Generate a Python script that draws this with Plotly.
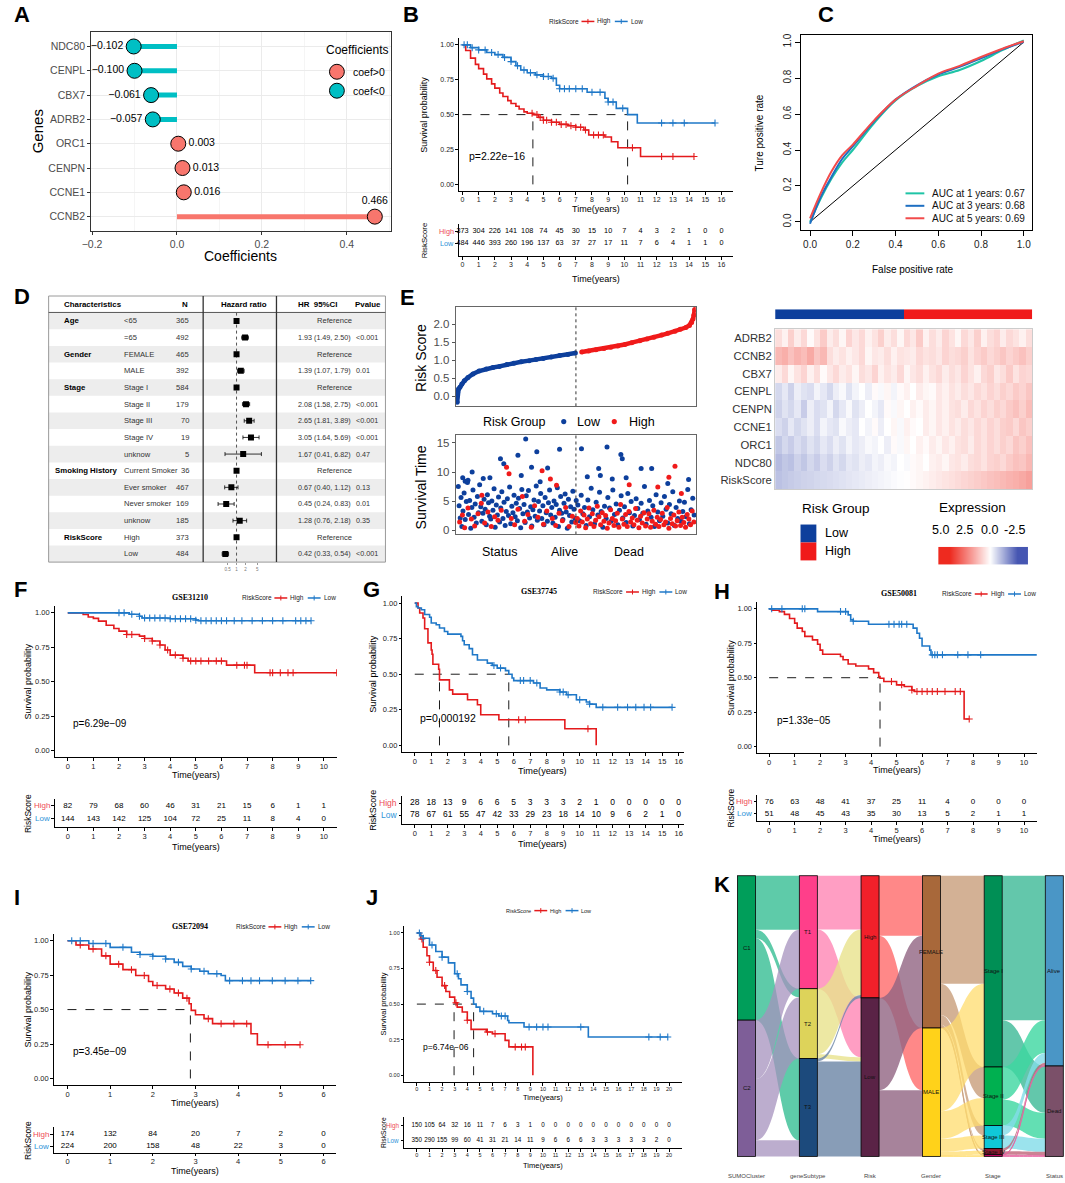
import plotly.graph_objects as go

W, H = 1065, 1183
SANS = "Liberation Sans, Arial, sans-serif"
SERIF = "Liberation Serif, Times New Roman, serif"

# ---------------- A : coefficients ----------------
a_genes = ["NDC80", "CENPL", "CBX7", "ADRB2", "ORC1", "CENPN", "CCNE1", "CCNB2"]
a_coef = [-0.102, -0.100, -0.061, -0.057, 0.003, 0.013, 0.016, 0.466]

# ---------------- B : TCGA KM ----------------
b_high_t = [0, 0.2, 0.5, 0.8, 1.0, 1.3, 1.5, 1.8, 2.0, 2.3, 2.5, 2.8, 3.0, 3.3, 3.5, 3.8, 4.0, 4.35, 4.7, 5.0, 5.5, 6.0, 6.5, 7.0, 7.5, 7.8, 8.8, 9.2, 9.6, 11.0, 14.3]
b_high_s = [1.0, 0.96, 0.905, 0.86, 0.83, 0.79, 0.756, 0.72, 0.69, 0.655, 0.63, 0.60, 0.58, 0.56, 0.54, 0.52, 0.51, 0.50, 0.48, 0.46, 0.445, 0.43, 0.42, 0.41, 0.39, 0.354, 0.34, 0.306, 0.263, 0.20, 0.20]
b_low_t = [0, 0.5, 1.0, 1.5, 2.0, 2.5, 3.0, 3.3, 3.6, 4.0, 4.5, 5.0, 5.5, 5.8, 6.0, 7.7, 8.8, 9.0, 9.5, 10.2, 10.8, 15.6]
b_low_s = [1.0, 0.98, 0.964, 0.945, 0.93, 0.91, 0.88, 0.85, 0.82, 0.80, 0.785, 0.773, 0.76, 0.71, 0.685, 0.66, 0.617, 0.59, 0.545, 0.50, 0.44, 0.44]
b_cens_high = [4.3, 4.6, 4.8, 5.0, 5.2, 5.5, 5.8, 6.1, 6.4, 6.7, 7.0, 7.3, 7.6, 8.1, 8.4, 8.7, 10.5, 12.3, 13.0, 14.3]
b_cens_low = [0.1, 0.3, 0.6, 1.0, 1.4, 1.8, 2.2, 2.6, 3.0, 3.4, 3.8, 4.2, 4.6, 5.0, 5.3, 5.6, 6.0, 6.3, 6.6, 7.0, 7.4, 8.0, 8.5, 9.0, 9.3, 9.9, 12.3, 13.0, 13.7, 15.6]
b_medians = [4.35, 10.2]
b_tab_high = [373, 304, 226, 141, 108, 74, 45, 30, 15, 10, 7, 4, 3, 2, 1, 0, 0]
b_tab_low = [484, 446, 393, 260, 196, 137, 63, 37, 27, 17, 11, 7, 6, 4, 1, 1, 0]

# ---------------- F : GSE31210 ----------------
f_high_t = [0, 0.6, 0.8, 1.0, 1.2, 1.5, 1.8, 2.0, 2.3, 2.8, 3.0, 3.3, 3.6, 3.8, 4.0, 4.5, 4.7, 6.2, 7.3, 10.5]
f_high_s = [1.0, 0.988, 0.97, 0.96, 0.94, 0.91, 0.886, 0.867, 0.843, 0.831, 0.814, 0.795, 0.766, 0.73, 0.693, 0.67, 0.65, 0.62, 0.565, 0.565]
f_low_t = [0, 2.4, 2.8, 2.9, 4.0, 5.0, 5.1, 9.5]
f_low_s = [1.0, 0.99, 0.975, 0.962, 0.957, 0.947, 0.942, 0.942]
f_cens_high = [2.3, 2.5, 3.0, 3.3, 3.6, 3.9, 4.2, 4.5, 4.8, 5.0, 5.2, 5.5, 5.8, 6.0, 6.6, 6.9, 7.0, 7.9, 8.0, 8.3, 8.6, 8.8, 10.5]
f_cens_low = [2.0, 2.2, 2.5, 2.8, 3.0, 3.2, 3.4, 3.6, 3.8, 4.0, 4.2, 4.4, 4.6, 4.8, 5.0, 5.2, 5.4, 5.6, 5.8, 6.0, 6.2, 6.5, 6.8, 7.2, 7.6, 8.0, 8.4, 8.9, 9.1, 9.3, 9.5]
f_medians = []
f_tab_high = [82, 79, 68, 60, 46, 31, 21, 15, 6, 1, 1]
f_tab_low = [144, 143, 142, 125, 104, 72, 25, 11, 8, 4, 0]

# ---------------- G : GSE37745 ----------------
g_high_t = [0, 0.2, 0.3, 0.5, 0.6, 0.8, 1.0, 1.05, 1.1, 1.45, 1.5, 2.1, 2.3, 3.2, 3.8, 4.0, 5.1, 9.1, 11.0]
g_high_s = [1.0, 0.965, 0.93, 0.895, 0.82, 0.72, 0.67, 0.64, 0.57, 0.535, 0.46, 0.39, 0.36, 0.32, 0.285, 0.215, 0.18, 0.117, 0.0]
g_low_t = [0, 0.1, 0.2, 0.4, 0.6, 0.9, 1.0, 1.3, 1.5, 1.8, 2.0, 2.8, 2.9, 3.0, 3.3, 3.5, 3.8, 4.4, 4.7, 5.0, 5.5, 5.7, 5.9, 6.0, 7.2, 7.6, 8.0, 8.8, 9.2, 9.8, 10.4, 10.6, 11.0, 15.6]
g_low_s = [1.0, 0.975, 0.965, 0.953, 0.92, 0.90, 0.86, 0.848, 0.825, 0.80, 0.782, 0.766, 0.735, 0.707, 0.68, 0.637, 0.60, 0.578, 0.562, 0.543, 0.525, 0.50, 0.473, 0.455, 0.438, 0.403, 0.39, 0.375, 0.356, 0.32, 0.305, 0.29, 0.267, 0.267]
g_cens_high = [6.3, 6.7, 10.5]
g_cens_low = [4.8, 5.2, 6.4, 6.6, 7.0, 7.4, 8.8, 9.0, 9.3, 10.0, 10.6, 11.4, 12.3, 12.9, 13.4, 13.9, 14.3, 15.6]
g_medians = [1.5, 5.7]
g_tab_high = [28, 18, 13, 9, 6, 6, 5, 3, 3, 3, 2, 1, 0, 0, 0, 0, 0]
g_tab_low = [78, 67, 61, 55, 47, 42, 33, 29, 23, 18, 14, 10, 9, 6, 2, 1, 0]

# ---------------- H : GSE50081 ----------------
h_high_t = [0, 0.1, 0.4, 0.6, 0.8, 1.0, 1.1, 1.3, 1.4, 1.7, 1.9, 2.0, 2.1, 2.8, 2.9, 3.1, 3.4, 3.9, 4.1, 4.3, 4.35, 4.5, 5.0, 5.3, 5.6, 5.7, 7.65, 7.85]
h_high_s = [1.0, 0.99, 0.98, 0.96, 0.93, 0.896, 0.86, 0.835, 0.80, 0.775, 0.743, 0.70, 0.67, 0.654, 0.63, 0.60, 0.585, 0.564, 0.537, 0.508, 0.496, 0.472, 0.448, 0.436, 0.41, 0.40, 0.20, 0.20]
h_low_t = [0, 1.9, 3.1, 3.2, 3.3, 3.9, 5.65, 5.8, 5.9, 6.0, 6.3, 6.35, 10.5]
h_low_s = [1.0, 0.98, 0.956, 0.92, 0.91, 0.888, 0.86, 0.823, 0.787, 0.73, 0.70, 0.666, 0.666]
h_cens_high = [4.8, 5.2, 5.6, 5.8, 6.0, 6.2, 6.4, 6.6, 6.9, 7.3, 7.5, 7.85]
h_cens_low = [0.1, 0.5, 1.3, 1.4, 2.8, 3.0, 3.3, 4.7, 4.9, 5.1, 5.2, 5.4, 6.4, 6.5, 6.6, 6.8, 7.4, 7.8, 8.3]
h_medians = [4.35]
h_tab_high = [76, 63, 48, 41, 37, 25, 11, 4, 0, 0, 0]
h_tab_low = [51, 48, 45, 43, 35, 30, 13, 5, 2, 1, 1]

# ---------------- I : GSE72094 ----------------
i_high_t = [0, 0.2, 0.5, 0.8, 1.0, 1.3, 1.6, 1.9, 2.0, 2.3, 2.5, 2.7, 2.85, 2.9, 3.0, 3.2, 3.4, 4.3, 4.45, 5.45]
i_high_s = [1.0, 0.969, 0.94, 0.89, 0.83, 0.79, 0.747, 0.704, 0.675, 0.65, 0.62, 0.583, 0.542, 0.494, 0.463, 0.434, 0.398, 0.325, 0.245, 0.245]
i_low_t = [0, 0.5, 1.0, 1.5, 1.7, 2.0, 2.3, 2.5, 2.7, 2.9, 3.1, 3.3, 3.6, 3.7, 5.7]
i_low_s = [1.0, 0.98, 0.952, 0.916, 0.90, 0.887, 0.867, 0.843, 0.814, 0.795, 0.778, 0.76, 0.747, 0.71, 0.71]
i_cens_high = [0.3, 0.6, 0.9, 1.2, 1.5, 1.8, 2.1, 2.4, 2.6, 2.8, 3.3, 3.6, 3.9, 4.2, 4.7, 5.1, 5.45]
i_cens_low = [0.1, 0.3, 0.6, 0.9, 1.3, 1.7, 2.0, 2.3, 2.6, 2.9, 3.2, 3.5, 3.8, 4.1, 4.3, 4.5, 4.8, 5.1, 5.4, 5.7]
i_medians = [2.88]
i_tab_high = [174, 132, 84, 20, 7, 2, 0]
i_tab_low = [224, 200, 158, 48, 22, 3, 0]

# ---------------- J : merged cohort ----------------
j_high_t = [0, 0.3, 0.5, 0.8, 1.0, 1.3, 1.6, 2.0, 2.3, 2.6, 3.0, 3.2, 3.6, 4.0, 4.3, 5.5, 6.0, 7.0, 7.3, 9.2]
j_high_s = [1.0, 0.958, 0.90, 0.84, 0.794, 0.736, 0.689, 0.63, 0.589, 0.549, 0.509, 0.479, 0.444, 0.386, 0.322, 0.304, 0.292, 0.245, 0.199, 0.0]
j_low_t = [0, 0.3, 0.5, 1.0, 1.5, 2.0, 2.5, 3.0, 3.3, 3.5, 4.0, 4.3, 4.5, 4.7, 5.0, 6.0, 6.5, 7.2, 7.3, 8.5, 13.6, 19.9]
j_low_s = [1.0, 0.98, 0.963, 0.916, 0.87, 0.83, 0.79, 0.713, 0.678, 0.635, 0.589, 0.542, 0.50, 0.479, 0.449, 0.432, 0.416, 0.385, 0.369, 0.339, 0.269, 0.269]
j_cens_high = [0.4, 1.0, 1.5, 2.2, 3.1, 4.0, 5.6, 6.2, 7.8, 8.3, 8.6]
j_cens_low = [0.2, 0.5, 1.2, 2.0, 3.2, 4.0, 5.3, 6.3, 6.7, 7.0, 8.9, 9.5, 10.0, 10.4, 13.0, 18.4, 19.3, 19.9]
j_medians = [2.95, 4.5]
j_tab_high = [150, 105, 64, 32, 16, 11, 7, 6, 3, 1, 0, 0, 0, 0, 0, 0, 0, 0, 0, 0, 0]
j_tab_low = [350, 290, 155, 99, 60, 41, 31, 21, 14, 11, 9, 6, 6, 6, 3, 3, 3, 3, 3, 2, 0]

# ---------------- C : time dependent ROC ----------------
c_fpr = [0, 0.05, 0.1, 0.15, 0.2, 0.3, 0.4, 0.5, 0.6, 0.7, 0.8, 0.9, 1.0]
c_tpr_1 = [0.0, 0.13, 0.24, 0.33, 0.40, 0.55, 0.675, 0.755, 0.81, 0.845, 0.895, 0.955, 1.01]
c_tpr_3 = [-0.01, 0.14, 0.25, 0.35, 0.42, 0.56, 0.68, 0.76, 0.82, 0.862, 0.91, 0.96, 1.0]
c_tpr_5 = [0.02, 0.16, 0.28, 0.37, 0.43, 0.565, 0.68, 0.757, 0.825, 0.868, 0.917, 0.963, 1.005]
c_labels = ["AUC at 1 years: 0.67", "AUC at 3 years: 0.68", "AUC at 5 years: 0.69"]

# ---------------- D : multivariate Cox ----------------
d_var = ["Age", "", "Gender", "", "Stage", "", "", "", "", "Smoking History", "", "", "", "RiskScore", ""]
d_level = ["<65", "=65", "FEMALE", "MALE", "Stage I", "Stage II", "Stage III", "Stage IV", "unknow",
           "Current Smoker", "Ever smoker", "Never smoker", "unknow", "High", "Low"]
d_n = [365, 492, 465, 392, 584, 179, 70, 19, 5, 36, 467, 169, 185, 373, 484]
d_hr = [1, 1.93, 1, 1.39, 1, 2.08, 2.65, 3.05, 1.67, 1, 0.67, 0.45, 1.28, 1, 0.42]
d_lo = [1, 1.49, 1, 1.07, 1, 1.58, 1.81, 1.64, 0.41, 1, 0.40, 0.24, 0.76, 1, 0.33]
d_hi = [1, 2.50, 1, 1.79, 1, 2.75, 3.89, 5.69, 6.82, 1, 1.12, 0.83, 2.18, 1, 0.54]
d_p = ["", "<0.001", "", "0.01", "", "<0.001", "<0.001", "<0.001", "0.47", "", "0.13", "0.01", "0.35", "", "<0.001"]

# ---------------- E : risk plot + heatmap ----------------
e_n_pat = 857
e_split = 429
e_rank = [1, 3, 6, 11, 18, 27, 40, 58, 80, 106, 130, 153, 180, 205, 232, 260, 285, 311, 340, 370, 400, 427,
          450, 475, 501, 530, 555, 580, 605, 630, 659, 685, 710, 738, 760, 786, 805, 825, 838, 846, 851, 854, 857]
e_score = [-0.17, 0.12, 0.20, 0.25, 0.34, 0.43, 0.52, 0.62, 0.70, 0.76, 0.80, 0.83, 0.88, 0.92, 0.96, 0.99, 1.02, 1.05, 1.09, 1.13, 1.16, 1.20,
           1.23, 1.26, 1.29, 1.33, 1.36, 1.40, 1.44, 1.49, 1.54, 1.59, 1.64, 1.70, 1.75, 1.81, 1.86, 1.91, 1.97, 2.05, 2.15, 2.25, 2.41]
e_alive = [(5, 7.5), (8, 4.2), (12, 2.1), (15, 5.6), (18, 0.6), (22, 3.3), (26, 6.4), (30, 1.8), (34, 4.9), (38, 8.2), (42, 2.7),
           (46, 5.1), (50, 0.3), (54, 3.9), (58, 6.9), (62, 2.2), (66, 4.5), (70, 1.2), (74, 5.8), (78, 3.0), (82, 7.8), (86, 4.0),
           (90, 1.5), (94, 2.9), (98, 5.3), (102, 3.6), (106, 0.9), (110, 6.1), (114, 4.7), (118, 2.4), (122, 1.9), (126, 5.0),
           (130, 3.4), (134, 7.1), (138, 0.5), (142, 4.3), (146, 2.6), (150, 5.7), (154, 1.4), (158, 3.8), (162, 6.6), (166, 2.0),
           (170, 4.8), (174, 0.8), (178, 3.2), (182, 5.4), (186, 2.5), (190, 7.4), (194, 1.1), (198, 4.1), (202, 3.0), (206, 6.0),
           (210, 2.3), (214, 4.6), (218, 1.6), (222, 5.5), (226, 3.7), (230, 0.4), (234, 7.0), (238, 2.8), (242, 4.4), (246, 1.3),
           (250, 5.9), (254, 3.1), (258, 6.8), (262, 2.1), (266, 4.0), (270, 0.7), (274, 3.5), (278, 5.2), (282, 2.4), (286, 7.6),
           (290, 1.7), (294, 4.9), (298, 3.3), (302, 6.3), (306, 2.0), (310, 4.2), (314, 0.9), (318, 5.6), (322, 3.0), (326, 1.5),
           (330, 4.7), (334, 6.9), (338, 2.6), (342, 3.9), (346, 1.2), (350, 5.0), (354, 2.2), (358, 4.4), (362, 7.3), (366, 0.6),
           (370, 3.4), (374, 5.8), (378, 2.9), (382, 1.8), (386, 4.6), (390, 6.2), (394, 3.1), (398, 0.3), (402, 5.3), (406, 2.5),
           (410, 4.0), (414, 1.4), (418, 6.7), (422, 3.6), (426, 2.0), (430, 5.1),
           (248, 15.7), (220, 12.9), (288, 13.5), (370, 13.9), (449, 14.0), (541, 14.3), (591, 13.0), (596, 12.3), (157, 12.3),
           (55, 10.0), (269, 10.8), (232, 9.4), (169, 11.4), (511, 10.6), (664, 10.6), (702, 10.6), (119, 9.0), (21, 9.0),
           (517, 9.4), (327, 10.7), (40, 8.6), (95, 8.9), (300, 8.3), (560, 8.8), (470, 9.2), (760, 8.0), (30, 8.4), (610, 9.0), (835, 8.7),
           (436, 4.3), (442, 1.6), (448, 6.0), (454, 2.8), (460, 3.9), (466, 0.8), (472, 5.2), (478, 2.3), (484, 7.2), (490, 3.5),
           (496, 1.1), (502, 4.8), (508, 2.6), (514, 6.5), (520, 3.2), (526, 0.5), (532, 4.1), (538, 2.0), (544, 5.6), (550, 3.8),
           (556, 1.5), (562, 6.9), (568, 2.7), (574, 4.5), (580, 0.9), (586, 3.4), (592, 5.9), (598, 2.1), (604, 4.0), (610, 1.3),
           (616, 6.3), (622, 3.0), (628, 4.9), (634, 0.7), (640, 2.5), (646, 5.4), (652, 3.7), (658, 1.8), (664, 4.6), (670, 2.9),
           (676, 7.5), (682, 1.0), (688, 3.3), (694, 5.1), (700, 2.2), (706, 4.2), (712, 0.6), (718, 6.1), (724, 3.1), (730, 1.6),
           (736, 4.7), (742, 2.4), (748, 5.8), (754, 3.6), (760, 1.2), (766, 4.4), (772, 2.8), (778, 6.6), (784, 0.8), (790, 3.9),
           (796, 2.0), (802, 5.0), (808, 1.5), (814, 3.2), (820, 4.8), (826, 2.3), (832, 7.0), (838, 1.1), (844, 3.5), (850, 5.5), (855, 2.6),
           (269, -1.4)]
e_dead = [(10, 1.4), (20, 2.6), (28, 0.4), (40, 3.8), (52, 1.9), (64, 0.7), (76, 2.8), (88, 4.6), (100, 1.2), (112, 3.1), (124, 0.6),
          (136, 2.3), (148, 1.7), (160, 3.4), (179, 10.8), (188, 9.7), (196, 2.0), (208, 0.9), (220, 3.6), (236, 5.8), (244, 1.5),
          (256, 2.7), (268, 0.5), (280, 4.2), (292, 2.2), (307, 10.2), (312, 1.0), (324, 3.3), (337, 8.8), (344, 2.0), (356, 0.8),
          (359, 7.7), (368, 2.9), (380, 1.6), (392, 3.9), (404, 0.6), (416, 2.4), (428, 1.3), (90, 6.0),
          (434, 2.0), (440, 0.7), (446, 3.3), (452, 1.4), (458, 2.6), (464, 0.4), (470, 1.9), (476, 3.8), (482, 1.1), (488, 2.8),
          (494, 0.6), (500, 1.7), (506, 4.1), (512, 2.3), (518, 0.9), (524, 3.0), (530, 1.5), (536, 2.5), (542, 0.3), (548, 1.2),
          (554, 3.5), (560, 2.0), (566, 0.8), (572, 1.6), (578, 2.9), (584, 0.5), (590, 4.4), (596, 1.9), (602, 1.0), (608, 2.7),
          (614, 0.6), (620, 3.2), (621, 7.8), (626, 1.4), (632, 2.1), (638, 0.9), (644, 3.7), (650, 1.7), (656, 0.4), (662, 2.4),
          (668, 1.2), (674, 3.0), (680, 0.7), (686, 1.9), (692, 2.8), (698, 0.5), (704, 1.5), (710, 3.4), (716, 1.0), (722, 2.2),
          (724, 7.4), (728, 0.6), (734, 1.8), (740, 2.9), (746, 0.9), (752, 1.4), (758, 3.9), (764, 9.1), (764, 0.3), (770, 2.0),
          (776, 1.1), (782, 2.6), (786, 11.0), (788, 0.7), (794, 1.6), (800, 3.1), (806, 0.8), (809, 6.3), (812, 2.2), (818, 1.3),
          (824, 0.5), (830, 2.7), (836, 1.9), (842, 0.9), (848, 3.3), (854, 1.4), (482, -1.3)]
e_rows = ["ADRB2", "CCNB2", "CBX7", "CENPL", "CENPN", "CCNE1", "ORC1", "NDC80", "RiskScore"]
e_adrb2 = [1.2, 0.8, 1.5, 0.9, 1.3, 0.6, 1.1, 1.6, 0.9, 1.2, 0.7, 1.4, 1.0, 1.3, 0.8, 1.1, 1.5, 0.9, 1.2, 0.7, 1.3, 1.0, 1.6, 0.8, 1.2, 0.9, 1.4, 1.1, 0.7, 1.3, 1.0, 1.5, 0.8, 1.2, 1.4, 0.9, 1.3, 1.1, 0.8, 1.2]
e_ccnb2 = [2.0, 2.2, 1.8, 2.1, 1.9, 2.3, 1.7, 2.0, 1.2, 0.9, 1.1, 0.8, 1.0, 1.3, 0.7, 1.0, 0.9, 1.2, 0.8, 1.1, 1.0, 0.9, 1.3, 1.1, 1.2, 1.0, 1.4, 1.2, 1.3, 1.5, 1.1, 1.4, 1.6, 1.3, 1.5, 1.7, 1.4, 1.6, 1.8, 1.5]
e_cbx7 = [0.9, 1.3, 0.7, 1.1, 1.4, 0.8, 1.2, 0.6, 1.0, 1.3, 0.9, 1.1, 0.7, 1.2, 1.0, 1.4, 0.8, 1.1, 0.9, 1.3, 0.7, 1.0, 1.2, 0.8, 1.1, 1.3, 0.9, 1.2, 1.0, 1.4, 1.1, 0.8, 1.3, 1.5, 1.0, 1.2, 1.6, 1.1, 1.4, 1.3]
e_cenpl = [-0.2, 0.1, -0.3, 0.2, 0.0, -0.1, 0.3, 0.1, -0.2, 0.2, 0.4, 0.0, 0.3, 0.5, 0.2, 0.6, 0.4, 0.7, 0.3, 0.6, 0.8, 0.5, 0.9, 0.7, 0.6, 1.0, 0.8, 1.1, 0.9, 1.2, 1.0, 1.3, 1.1, 1.4, 1.2, 1.5, 1.3, 1.6, 1.4, 1.7]
e_cenpn = [-0.3, 0.0, -0.2, 0.1, -0.4, 0.2, -0.1, 0.0, 0.3, -0.2, 0.1, 0.4, 0.0, 0.2, 0.5, 0.3, 0.1, 0.6, 0.4, 0.7, 0.5, 0.8, 0.6, 0.9, 0.7, 1.0, 0.8, 1.1, 1.2, 0.9, 1.3, 1.1, 1.4, 1.2, 1.5, 1.3, 1.6, 1.8, 1.5, 1.9]
e_ccne1 = [-0.1, -0.3, 0.1, -0.2, 0.0, 0.2, -0.1, 0.3, 0.1, 0.0, 0.4, 0.2, 0.1, 0.5, 0.3, 0.6, 0.2, 0.5, 0.7, 0.4, 0.8, 0.6, 0.5, 0.9, 0.7, 1.0, 0.8, 1.1, 0.9, 1.2, 1.0, 1.3, 1.1, 1.4, 1.2, 1.5, 1.6, 1.3, 1.7, 1.5]
e_orc1 = [-0.5, -0.2, -0.4, -0.1, -0.3, 0.0, -0.2, 0.1, -0.1, 0.2, 0.0, 0.3, 0.1, 0.2, 0.4, 0.3, 0.5, 0.2, 0.6, 0.4, 0.7, 0.5, 0.8, 0.6, 0.9, 0.7, 1.0, 0.8, 1.1, 1.2, 0.9, 1.3, 1.1, 1.4, 1.2, 1.5, 1.3, 1.7, 1.5, 1.8]
e_ndc80 = [-0.7, -0.5, -0.6, -0.3, -0.5, -0.2, -0.4, -0.1, -0.3, 0.0, -0.2, 0.1, 0.0, 0.2, 0.1, 0.3, 0.2, 0.4, 0.3, 0.5, 0.4, 0.6, 0.7, 0.5, 0.8, 0.9, 0.7, 1.0, 1.1, 0.9, 1.2, 1.3, 1.1, 1.4, 1.5, 1.3, 1.6, 1.8, 1.7, 2.0]
e_riskrow = [-0.6, -0.5, -0.42, -0.36, -0.3, -0.26, -0.2, -0.16, -0.12, -0.06, -0.02, 0.04, 0.1, 0.14, 0.2, 0.26, 0.3, 0.36, 0.42, 0.46, 0.52, 0.6, 0.7, 0.78, 0.88, 0.98, 1.08, 1.16, 1.26, 1.36, 1.46, 1.56, 1.66, 1.78, 1.88, 1.98, 2.1, 2.2, 2.32, 2.5]
e_expr_ticks = [5.0, 2.5, 0.0, -2.5]

# ---------------- K : alluvial ----------------
k_axes = ["SUMOCluster", "geneSubtype", "Risk", "Gender", "Stage", "Status"]
k_nodes = [["C1", "C2"], ["T1", "T2", "T3"], ["High", "Low"], ["FEMALE", "MALE"],
           ["Stage I", "Stage II", "Stage III", "Stage IV", "unknow"], ["Alive", "Dead"]]
k_counts = [[441, 416], [345, 213, 299], [373, 484], [465, 392], [584, 179, 70, 19, 5], [581, 276]]
k_flows = [("C1", "T1", 165), ("C1", "T2", 26), ("C1", "T3", 250), ("C2", "T1", 180), ("C2", "T2", 187), ("C2", "T3", 49),
           ("T1", "High", 164), ("T1", "Low", 181), ("T2", "High", 200), ("T2", "Low", 13), ("T3", "High", 9), ("T3", "Low", 290),
           ("High", "FEMALE", 183), ("High", "MALE", 190), ("Low", "FEMALE", 282), ("Low", "MALE", 202),
           ("FEMALE", "Stage I", 330), ("FEMALE", "Stage II", 95), ("FEMALE", "Stage III", 30), ("FEMALE", "Stage IV", 7), ("FEMALE", "unknow", 3),
           ("MALE", "Stage I", 254), ("MALE", "Stage II", 84), ("MALE", "Stage III", 40), ("MALE", "Stage IV", 12), ("MALE", "unknow", 2),
           ("Stage I", "Alive", 441), ("Stage I", "Dead", 143), ("Stage II", "Alive", 100), ("Stage II", "Dead", 79),
           ("Stage III", "Alive", 30), ("Stage III", "Dead", 40), ("Stage IV", "Alive", 8), ("Stage IV", "Dead", 11),
           ("unknow", "Alive", 2), ("unknow", "Dead", 3)]

# ---------------- styling ----------------
KM_RED, KM_BLUE = "#E41A1C", "#1F78C8"
TAB_RED, TAB_BLUE = "#EE4B55", "#2E94D8"
E_BLUE, E_RED = "#0D3F9C", "#F01A1A"
HM_SCALE = [[0, "#4656B2"], [0.4, "#FFFFFF"], [1, "#EE2A1F"]]
k_node_col = {"C1": "#009E5A", "C2": "#7E5E98", "T1": "#FF3F8A", "T2": "#DDD35A", "T3": "#1C4A7C",
              "High": "#F2202A", "Low": "#5A2346", "FEMALE": "#A8683A", "MALE": "#FFD21A",
              "Stage I": "#008F55", "Stage II": "#00B050", "Stage III": "#10C8D8", "Stage IV": "#8B1A30",
              "unknow": "#E0006E", "Alive": "#4A96C6", "Dead": "#7B5069"}
k_flow_col = {"C1": "rgba(40,185,140,0.75)", "C2": "rgba(165,145,190,0.75)", "T1": "rgba(255,125,175,0.75)",
              "T2": "rgba(232,226,140,0.8)", "T3": "rgba(115,140,170,0.85)", "High": "rgba(255,115,115,0.85)",
              "Low": "rgba(145,100,130,0.8)", "FEMALE": "rgba(200,158,122,0.8)", "MALE": "rgba(255,220,110,0.75)",
              "Stage I": "rgba(60,185,150,0.8)", "Stage II": "rgba(60,215,160,0.8)", "Stage III": "rgba(130,220,232,0.8)",
              "Stage IV": "rgba(190,100,120,0.8)", "unknow": "rgba(230,100,160,0.8)"}

fig = go.Figure()
ann, shp = [], []
_n = [0]


def fx(px):
    return px / W


def fy(py):
    return 1 - py / H


def add_axes(x0, x1, y0, y1, xa, ya):
    _n[0] += 1
    s = "" if _n[0] == 1 else str(_n[0])
    base = dict(showgrid=False, zeroline=False, ticks="")
    fig.update_layout(**{"xaxis" + s: {**base, "domain": [fx(x0), fx(x1)], "anchor": "y" + s, **xa},
                         "yaxis" + s: {**base, "domain": [fy(y1), fy(y0)], "anchor": "x" + s, **ya}})
    return "x" + s, "y" + s


def txt(px, py, s, size, color="black", xa="center", angle=0, bold=False, family=SANS):
    ann.append(dict(x=fx(px), y=fy(py), xref="paper", yref="paper", text=("<b>%s</b>" % s) if bold else s,
                    showarrow=False, xanchor=xa, yanchor="middle", textangle=angle, borderpad=0,
                    font=dict(size=size, color=color, family=family)))


def line(xa_, ya_, xb, yb, color, width=1, dash=None):
    shp.append(dict(type="line", xref="paper", yref="paper", x0=fx(xa_), y0=fy(ya_), x1=fx(xb), y1=fy(yb),
                    line=dict(color=color, width=width, dash=dash)))


def rect(x0, y0, x1, y1, fill="rgba(0,0,0,0)", color=None, width=0, layer="above"):
    shp.append(dict(type="rect", xref="paper", yref="paper", x0=fx(x0), y0=fy(y1), x1=fx(x1), y1=fy(y0),
                    fillcolor=fill, layer=layer, line=dict(color=color or fill, width=width)))


def circle(cx, cy, r, fill, color=None, width=0):
    shp.append(dict(type="circle", xref="paper", yref="paper", x0=fx(cx - r), y0=fy(cy + r), x1=fx(cx + r),
                    y1=fy(cy - r), fillcolor=fill, line=dict(color=color or fill, width=width)))


def letter(px, py, s):
    txt(px, py, s, 22, bold=True, xa="left")


def surv_at(ts, ss, t):
    s = ss[0]
    for ti, si in zip(ts, ss):
        if ti <= t:
            s = si
    return s


# ================= A =================
letter(3, 13, "A")
tfa = dict(size=10.5, color="#4D4D4D", family=SANS)
xa, ya = add_axes(82, 385, 30, 230,
                  dict(range=[-0.202, 0.505], tickvals=[-0.2, 0, 0.2, 0.4], ticktext=["\u22120.2", "0.0", "0.2", "0.4"],
                       showgrid=True, gridcolor="#EBEBEB",
                       minor=dict(tickvals=[-0.1, 0.1, 0.3, 0.5], showgrid=True, gridcolor="#F5F5F5"),
                       showline=True, mirror=True, linecolor="#333", ticks="outside", ticklen=3, tickcolor="#333", tickfont=tfa),
                  dict(range=[7.6, -0.6], tickvals=list(range(len(a_genes))), ticktext=a_genes, showgrid=True,
                       gridcolor="#EBEBEB", showline=True, mirror=True, linecolor="#333", ticks="outside", ticklen=3,
                       tickcolor="#333", tickfont=tfa))
for pos, col in ((False, "#00BFC4"), (True, "#F8766D")):
    sx, sy = [], []
    for i, c in enumerate(a_coef):
        if (c > 0) == pos:
            sx += [0, c, None]
            sy += [i, i, None]
    fig.add_trace(go.Scatter(x=sx, y=sy, mode="lines", line=dict(color=col, width=5), xaxis=xa, yaxis=ya, hoverinfo="skip"))
fig.add_trace(go.Scatter(
    x=a_coef, y=list(range(len(a_genes))), mode="markers+text",
    marker=dict(size=15, color=["#F8766D" if c > 0 else "#00BFC4" for c in a_coef], line=dict(color="black", width=1)),
    text=[("%.3f" % c).replace("-", "\u2212") for c in a_coef],
    textposition=["middle left" if c < 0 else ("top center" if c == max(a_coef) else "middle right") for c in a_coef],
    textfont=dict(size=10.5, color="black", family=SANS), cliponaxis=False, xaxis=xa, yaxis=ya, hoverinfo="skip"))
txt(318, 48, "Coefficients", 12, xa="left")
circle(330, 70, 7.5, "#F8766D", "black", 1)
txt(345, 70, "coef>0", 10.5, xa="left")
circle(330, 89, 7.5, "#00BFC4", "black", 1)
txt(345, 89, "coef<0", 10.5, xa="left")
txt(233, 255, "Coefficients", 14)
txt(28, 130, "Genes", 15, angle=-90)


# ================= KM panels =================
def km_legend(x, y, f):
    txt(x, y, "RiskScore", f, xa="left", color="#222")
    k = x + 4.6 * f + 4
    for lab, col in (("High", KM_RED), ("Low", KM_BLUE)):
        line(k, y, k + 13, y, col, 1.5)
        line(k + 6.5, y - 2.5, k + 6.5, y + 2.5, col, 1)
        txt(k + 15, y, lab, f, xa="left", color="#222")
        k = k + 15 + 2.1 * f + 5


def km_panel(s, high_t, high_s, low_t, low_s, cens_h, cens_l, medians, ptxt, tab_h, tab_l, title=None):
    x0, x1, y0, y1 = s["box"]
    fs = s["fs"]
    tf = dict(size=fs["tick"], color="#222", family=SANS)
    ax = dict(showline=True, linecolor="black", linewidth=0.8, ticks="outside", ticklen=2.5, tickwidth=0.8,
              tickcolor="black", tickfont=tf)
    xa, ya = add_axes(x0, x1, y0, y1, dict(range=s["xr"], tickvals=s["ticks"], ticklabelstandoff=-1, **ax),
                      dict(range=[-0.05, 1.05], tickvals=[0, 0.25, 0.5, 0.75, 1],
                           ticktext=["0.00", "0.25", "0.50", "0.75", "1.00"], **ax))
    if medians:
        mx, my = [0, max(medians), None], [0.5, 0.5, None]
        for m in medians:
            mx += [m, m, None]
            my += [0, 0.5, None]
        fig.add_trace(go.Scatter(x=mx, y=my, mode="lines", line=dict(color="black", width=0.9, dash="dash"),
                                 xaxis=xa, yaxis=ya, hoverinfo="skip"))
    for t, sv, cens, col in ((high_t, high_s, cens_h, KM_RED), (low_t, low_s, cens_l, KM_BLUE)):
        fig.add_trace(go.Scatter(x=t, y=sv, mode="lines", line=dict(color=col, width=1.6, shape="hv"),
                                 xaxis=xa, yaxis=ya, hoverinfo="skip"))
        fig.add_trace(go.Scatter(x=cens, y=[surv_at(t, sv, c) for c in cens], mode="markers",
                                 marker=dict(symbol="cross-thin", size=5, line=dict(color=col, width=1.1)),
                                 xaxis=xa, yaxis=ya, hoverinfo="skip"))
    txt(s["ppos"][0], s["ppos"][1], ptxt, fs["p"], xa="left")
    txt((x0 + x1) / 2, s["xt_y"], "Time(years)", fs["title"])
    txt(s["ytx"], (y0 + y1) / 2, "Survival probability", fs["title"], angle=-90)
    # risk table
    ty0, ty1 = s["tbox"]
    yh, yl = s["rows"]
    u = yl - yh
    xt, yt = add_axes(x0, x1, ty0, ty1, dict(range=s["xr"], tickvals=s["ticks"], ticklabelstandoff=-1, **ax),
                      dict(range=[(ty1 - yh) / u, (ty0 - yh) / u], tickvals=[0, 1], showticklabels=False,
                           showline=True, linecolor="black", linewidth=0.8, ticks="outside", ticklen=2.5,
                           tickwidth=0.8, tickcolor="black"))
    for row, vals in ((0, tab_h), (1, tab_l)):
        fig.add_trace(go.Scatter(x=s["ticks"], y=[row] * len(vals), mode="text", text=[str(v) for v in vals],
                                 textfont=dict(size=fs["tab"], color="black", family=SANS), xaxis=xt, yaxis=yt,
                                 hoverinfo="skip", cliponaxis=False))
    txt(x0 - 4, yh, "High", fs["tab"], color=TAB_RED, xa="right")
    txt(x0 - 4, yl, "Low", fs["tab"], color=TAB_BLUE, xa="right")
    txt(s["ytx"], (ty0 + ty1) / 2, "RiskScore", fs["tab"] + 0.5, angle=-90)
    txt((x0 + x1) / 2, s["tt_y"], "Time(years)", fs["title"])
    if title:
        txt(s["title_pos"][0], s["title_pos"][1], title, fs["gse"], bold=True, family=SERIF)
    km_legend(s["leg"][0], s["leg"][1], fs["leg"])


fs_std = dict(tick=7.5, title=9, p=10, tab=8, leg=6.5, gse=8)

letter(396, 13, "B")
km_panel(dict(box=(453, 730, 36, 190), xr=[-0.23, 16.72], ticks=list(range(17)), tbox=(223, 255), rows=(230, 242),
              ppos=(462, 155), xt_y=208, tt_y=278, ytx=418, leg=(543, 19.5),
              fs=dict(tick=7, title=9, p=10.5, tab=7.3, leg=6.5, gse=8)),
         b_high_t, b_high_s, b_low_t, b_low_s, b_cens_high, b_cens_low, b_medians, "p=2.22e\u221216", b_tab_high, b_tab_low)

letter(3, 589, "F")
km_panel(dict(box=(45, 330, 606, 758), xr=[-0.515, 10.51], ticks=list(range(11)), tbox=(800, 828), rows=(806.7, 819.3),
              ppos=(63, 724), xt_y=776, tt_y=848, ytx=18, leg=(233, 598), title_pos=(182, 598), fs=fs_std),
         f_high_t, f_high_s, f_low_t, f_low_s, f_cens_high, f_cens_low, f_medians, "p=6.29e\u221209",
         f_tab_high, f_tab_low, "GSE31210")

letter(355, 589, "G")
km_panel(dict(box=(396, 680, 596, 753), xr=[-0.756, 16.3], ticks=list(range(17)), tbox=(797, 825), rows=(804, 816),
              ppos=(413, 718), xt_y=772, tt_y=845, ytx=367, leg=(588, 592), title_pos=(534, 592),
              fs=dict(tick=7.5, title=9.2, p=10.5, tab=8.5, leg=6.5, gse=8)),
         g_high_t, g_high_s, g_low_t, g_low_s, g_cens_high, g_cens_low, g_medians, "p=0,000192",
         g_tab_high, g_tab_low, "GSE37745")

letter(710, 591, "H")
km_panel(dict(box=(754, 1037, 602, 754), xr=[-0.48, 10.52], ticks=list(range(11)), tbox=(796, 822), rows=(802.7, 814.3),
              ppos=(773, 721), xt_y=771, tt_y=840, ytx=728, leg=(940, 594), title_pos=(897, 594), fs=fs_std),
         h_high_t, h_high_s, h_low_t, h_low_s, h_cens_high, h_cens_low, h_medians, "p=1.33e\u221205",
         h_tab_high, h_tab_low, "GSE50081")

letter(3, 899, "I")
km_panel(dict(box=(44, 329, 935, 1087), xr=[-0.325, 6.29], ticks=list(range(7)), tbox=(1129, 1155), rows=(1136, 1148.3),
              ppos=(63, 1053), xt_y=1105, tt_y=1173, ytx=18, leg=(227, 928), title_pos=(182, 928), fs=fs_std),
         i_high_t, i_high_s, i_low_t, i_low_s, i_cens_high, i_cens_low, i_medians, "p=3.45e\u221209",
         i_tab_high, i_tab_low, "GSE72094")

letter(358, 899, "J")
km_panel(dict(box=(398, 678, 927, 1084), xr=[-1.0, 21.0], ticks=list(range(21)), tbox=(1119, 1150), rows=(1127.7, 1142.7),
              ppos=(416, 1049), xt_y=1099, tt_y=1167, ytx=377, leg=(500, 911.7),
              fs=dict(tick=5.5, title=7.5, p=8.5, tab=6.3, leg=5.5, gse=8)),
         j_high_t, j_high_s, j_low_t, j_low_s, j_cens_high, j_cens_low, j_medians, "p=6.74e\u221206",
         j_tab_high, j_tab_low)

# ================= C =================
letter(815, 13, "C")
tfc = dict(size=10, color="#222", family=SANS)
axc = dict(showline=True, mirror=True, linecolor="black", linewidth=1, ticks="outside", ticklen=5, tickcolor="black",
           tickfont=tfc)
xc, yc = add_axes(799, 1032, 33, 229,
                  dict(range=[-0.04, 1.04], tickvals=[0, 0.2, 0.4, 0.6, 0.8, 1.0],
                       ticktext=["0.0", "0.2", "0.4", "0.6", "0.8", "1.0"], **axc),
                  dict(range=[-0.046, 1.04], tickvals=[0, 0.2, 0.4, 0.6, 0.8, 1.0],
                       ticktext=["0.0", "0.2", "0.4", "0.6", "0.8", "1.0"], tickangle=-90, **axc))
fig.add_trace(go.Scatter(x=[0, 1], y=[0, 1], mode="lines", line=dict(color="black", width=1), xaxis=xc, yaxis=yc,
                         hoverinfo="skip"))
c_cols = ["#1FC4A6", "#1E6FC2", "#F24B4B"]
for tpr, col in zip((c_tpr_1, c_tpr_3, c_tpr_5), c_cols):
    fig.add_trace(go.Scatter(x=c_fpr, y=tpr, mode="lines", line=dict(color=col, width=2, shape="spline"),
                             xaxis=xc, yaxis=yc, hoverinfo="skip"))
for k, (lab, col) in enumerate(zip(c_labels, c_cols)):
    yy = 192 + k * 12.5
    line(904, yy, 923, yy, col, 2)
    txt(930, yy, lab, 10, xa="left", color="#111")
txt(912, 268, "False positive rate", 10)
txt(757, 131, "Ture positive rate", 10, angle=-90)

# ================= D =================
letter(3, 296, "D")
ROW0, ROWH = 320, 16.7
for i in range(len(d_level)):
    yc_ = ROW0 + i * ROWH
    if i % 2 == 0:
        rect(39, yc_ - ROWH / 2, 379, yc_ + ROWH / 2, fill="#EDEDED", layer="below")
    if d_var[i]:
        txt(44 if len(d_var[i]) > 10 else 54, yc_, d_var[i], 7.8, bold=True, xa="left")
    txt(114, yc_, d_level[i], 7.6, xa="left", color="#333")
    txt(182, yc_, str(d_n[i]), 7.6, xa="right", color="#333")
    if d_p[i] == "":
        txt(327.5, yc_, "Reference", 7.6, color="#333")
    else:
        txt(290, yc_, "%.2f (%.2f, %.2f)" % (d_hr[i], d_lo[i], d_hi[i]), 7.2, xa="left", color="#333")
        txt(348.5, yc_, d_p[i], 7.2, xa="left", color="#333")
rect(39, 295, 379, 562, color="#9A9A9A", width=1)
line(39, 311.5, 379, 311.5, "#555", 1)
line(195, 295, 195, 562, "#333", 1.3)
line(269, 295, 269, 562, "#333", 1.3)
txt(54, 304, "Characteristics", 7.9, bold=True, xa="left")
txt(177, 304, "N", 7.9, bold=True)
txt(236, 304, "Hazard ratio", 7.9, bold=True)
txt(290, 304, "HR  95%CI", 7.9, bold=True, xa="left")
txt(347, 304, "Pvalue", 7.9, bold=True, xa="left")
xf, yf = add_axes(195, 269, ROW0 - ROWH / 2, ROW0 + 14.5 * ROWH,
                  dict(type="log", range=[-1.12, 1.34], tickvals=[0.5, 1, 2, 5], ticktext=["0.5", "1", "2", "5"],
                       ticks="outside", ticklen=2, tickcolor="#999", tickfont=dict(size=4.5, color="#777", family=SANS)),
                  dict(range=[len(d_level) - 0.5, -0.5], showticklabels=False))
fig.add_trace(go.Scatter(x=[1, 1], y=[-0.5, len(d_level) - 0.5], mode="lines",
                         line=dict(color="#555", width=1, dash="dot"), xaxis=xf, yaxis=yf, hoverinfo="skip"))
fig.add_trace(go.Scatter(
    x=d_hr, y=list(range(len(d_hr))), mode="markers", marker=dict(symbol="square", size=6, color="black"),
    error_x=dict(type="data", symmetric=False, array=[h - r for h, r in zip(d_hi, d_hr)],
                 arrayminus=[r - l for r, l in zip(d_hr, d_lo)], color="black", thickness=0.8, width=2),
    xaxis=xf, yaxis=yf, hoverinfo="skip"))

# ================= E =================
letter(393, 297, "E")
axe = dict(showline=True, mirror=True, linecolor="#666", linewidth=1)
tfe = dict(size=11.5, color="#4D4D4D", family=SANS)
EX0, EX1 = 450, 692.3
xe1, ye1 = add_axes(EX0, EX1, 305.7, 405.7,
                    dict(range=[-4, e_n_pat + 4], showticklabels=False, **axe),
                    dict(range=[-0.28, 2.49], tickvals=[0, 0.5, 1, 1.5, 2], ticktext=["0.0", "0.5", "1.0", "1.5", "2.0"],
                         ticks="outside", ticklen=3, tickcolor="#555", tickfont=tfe, **axe))
for low, col in ((True, E_BLUE), (False, E_RED)):
    rx = [r for r in e_rank if (r <= e_split) == low]
    ry = [v for r, v in zip(e_rank, e_score) if (r <= e_split) == low]
    fig.add_trace(go.Scatter(x=rx, y=ry, mode="lines+markers", line=dict(color=col, width=4.5),
                             marker=dict(size=5, color=col), xaxis=xe1, yaxis=ye1, hoverinfo="skip"))
fig.add_trace(go.Scatter(x=[e_split, e_split], y=[-0.28, 2.49], mode="lines", line=dict(color="#333", width=1, dash="dot"),
                         xaxis=xe1, yaxis=ye1, hoverinfo="skip"))
xe2, ye2 = add_axes(EX0, EX1, 434.3, 534.3,
                    dict(range=[-4, e_n_pat + 4], showticklabels=False, **axe),
                    dict(range=[-0.76, 16.4], tickvals=[0, 5, 10, 15], ticks="outside", ticklen=3, tickcolor="#555",
                         tickfont=tfe, **axe))
for pts, col in ((e_alive, E_BLUE), (e_dead, E_RED)):
    fig.add_trace(go.Scatter(x=[p[0] for p in pts], y=[p[1] for p in pts], mode="markers", cliponaxis=False,
                             marker=dict(size=5, color=col), xaxis=xe2, yaxis=ye2, hoverinfo="skip"))
fig.add_trace(go.Scatter(x=[e_split, e_split], y=[-0.76, 16.4], mode="lines", line=dict(color="#333", width=1, dash="dot"),
                         xaxis=xe2, yaxis=ye2, hoverinfo="skip"))
txt(415, 357, "Risk Score", 14, angle=-90)
txt(415, 487, "Survival Time", 14, angle=-90)
txt(476, 421, "Risk Group", 12.5, xa="left")
circle(559, 421, 2.6, E_BLUE)
txt(571, 421, "Low", 12.5, xa="left")
circle(610, 421, 2.6, E_RED)
txt(624, 421, "High", 12.5, xa="left")
txt(494, 552, "Status", 12.5)
txt(560, 552, "Alive", 12.5)
txt(625, 552, "Dead", 12.5)

# top risk-group bar
HX0, HX1 = 772.4, 1032
xb, yb = add_axes(HX0, HX1, 308.3, 318.3, dict(range=[0, e_n_pat], showticklabels=False),
                  dict(range=[0, 1], showticklabels=False))
fig.add_trace(go.Heatmap(x=[0, e_split, e_n_pat], y=[0, 1], z=[[0, 1]], zmin=0, zmax=1, showscale=False,
                         colorscale=[[0, E_BLUE], [0.5, E_BLUE], [0.5, E_RED], [1, E_RED]], xaxis=xb, yaxis=yb,
                         hoverinfo="skip"))
# expression heatmap
hm_z = [e_adrb2, e_ccnb2, e_cbx7, e_cenpl, e_cenpn, e_ccne1, e_orc1, e_ndc80, e_riskrow]
ncol = len(e_adrb2)
xh, yh_ = add_axes(HX0, HX1, 328.3, 489,
                   dict(range=[-0.5, ncol - 0.5], showticklabels=False, showline=True, mirror=True, linecolor="#CCC"),
                   dict(range=[len(e_rows) - 0.5, -0.5], tickvals=list(range(len(e_rows))), ticktext=e_rows,
                        tickfont=dict(size=11.3, color="#333", family=SANS), showline=True, mirror=True, linecolor="#CCC"))
fig.add_trace(go.Heatmap(z=hm_z, x=list(range(ncol)), y=list(range(len(e_rows))), zmin=-2.5, zmax=5,
                         colorscale=HM_SCALE, showscale=False, xaxis=xh, yaxis=yh_, hoverinfo="skip"))
# heatmap legends
txt(798, 508, "Risk Group", 13.5, xa="left")
rect(798, 524.3, 814, 542.3, fill=E_BLUE)
rect(798, 542.3, 814, 560.3, fill=E_RED)
txt(822, 533, "Low", 12.5, xa="left")
txt(822, 551, "High", 12.5, xa="left")
txt(936.4, 507, "Expression", 13.5, xa="left")
for k, v in enumerate(e_expr_ticks):
    txt([939, 964, 989, 1014.7][k], 530, "%.1f" % v, 12.5)
xcb, ycb = add_axes(937, 1027.6, 546.7, 564.3, dict(range=[-0.5, len(e_expr_ticks) - 0.5], showticklabels=False),
                    dict(range=[0, 1], showticklabels=False))
fig.add_trace(go.Heatmap(z=[e_expr_ticks, e_expr_ticks], x=list(range(len(e_expr_ticks))), y=[0, 1], zmin=-2.5, zmax=5,
                         zsmooth="best", colorscale=HM_SCALE, showscale=False, xaxis=xcb, yaxis=ycb, hoverinfo="skip"))

# ================= K =================
letter(710, 885, "K")
K_X0, K_X1, K_Y0, K_Y1 = 734.3, 1063.4, 876.7, 1158.3
k_col_px = [743.5, 805.9, 868.2, 930.2, 992.5, 1054.2]
names, node_x, node_y = [], [], []
for c, (col, cnts) in enumerate(zip(k_nodes, k_counts)):
    tot, cum = sum(cnts), 0
    for nm, v in zip(col, cnts):
        names.append(nm)
        node_x.append((k_col_px[c] - K_X0) / (K_X1 - K_X0))
        node_y.append((cum + v / 2) / tot)
        if nm != "unknow":
            txt(k_col_px[c], K_Y0 + (cum + v / 2) / tot * (K_Y1 - K_Y0), nm, 6, color="#111")
        cum += v
    txt(k_col_px[c], 1177.7, k_axes[c], 6, color="#444")
idx = {nm: i for i, nm in enumerate(names)}
fig.add_trace(go.Sankey(
    domain=dict(x=[fx(K_X0), fx(K_X1)], y=[fy(K_Y1), fy(K_Y0)]), arrangement="fixed", hoverinfo="skip",
    node=dict(label=[""] * len(names), x=node_x, y=node_y, pad=0, thickness=18,
              color=[k_node_col[n] for n in names], line=dict(color="black", width=0.8)),
    link=dict(source=[idx[a] for a, b, v in k_flows], target=[idx[b] for a, b, v in k_flows],
              value=[v for a, b, v in k_flows], color=[k_flow_col[a] for a, b, v in k_flows])))

fig.update_layout(width=W, height=H, margin=dict(l=0, r=0, t=0, b=0), showlegend=False,
                  plot_bgcolor="rgba(0,0,0,0)", paper_bgcolor="white", annotations=ann, shapes=shp,
                  font=dict(family=SANS))
fig.write_html("out.html", config={"displayModeBar": False},
               post_script="document.body.style.margin='0px';")
